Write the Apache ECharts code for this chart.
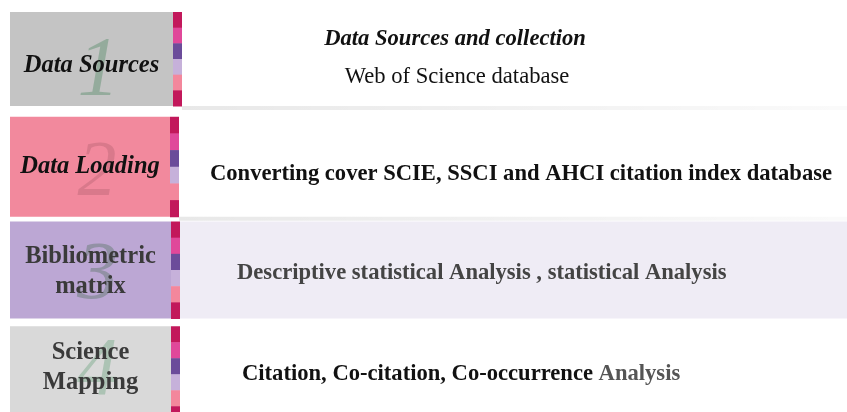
<!DOCTYPE html>
<html>
<head>
<meta charset="utf-8">
<script src="https://cdn.jsdelivr.net/npm/echarts@6/dist/echarts.min.js"></script>
<style>
  html, body { margin: 0; padding: 0; background: #fff; }
  #main { width: 847px; height: 412px; }
</style>
</head>
<body>
<div id="main"></div>
<script>
// workflow stages, top to bottom
var stageNumbers = ['1', '2', '3', '4'];
var stageLabels = ['Data Sources', 'Data Loading', 'Bibliometric\nmatrix', 'Science\nMapping'];
var descriptions = [
    'Data Sources and collection\nWeb of Science database',
    'Converting cover SCIE, SSCI and AHCI citation index database',
    'Descriptive statistical Analysis , statistical Analysis',
    'Citation, Co-citation, Co-occurrence Analysis'
];

(function () {
    var myChart = echarts.init(document.querySelector('#main'));
    var serif = '"Liberation Serif", "DejaVu Serif", serif';

    // styles per row
    var boxColors = ['#c4c4c4', '#f2899d', '#bca7d4', '#d9d9d9'];
    var numColors = ['#8fa898', '#d6788a', '#8d8fa0', '#a6c0af'];
    var rightColors = ['#ffffff', '#ffffff', '#efecf5', '#ffffff'];
    var stripColors = ['#c2185b', '#e0489a', '#6b4c9a', '#c6b1da', '#f3879c', '#c2185b'];
    var boxRight = [173, 170, 171, 171];
    var boxH = [94, 100, 97, 96];
    var labelDy = [54, 50, 50, 41];
    var numDy = [61, 57, 55, 46];
    var numSize = [84, 78, 82, 82];
    var descX = [455, 210, 237, 242];
    var descDy = [27, 57, 52, 48];

    function renderItem(params, api) {
        var i = api.value(0);
        var c = api.coord([0, i]);
        var band = api.size([0, 1])[1];
        var top = c[1] - band / 2;
        var h = boxH[i];
        var left = api.coord([10, i])[0];
        var right = boxRight[i];
        var segH = h / stripColors.length;
        var children = [];

        children.push({
            type: 'rect',
            shape: { x: right + 9, y: top, width: 847 - right - 9, height: h },
            style: { fill: rightColors[i] }
        });
        if (i < 2) {
            children.push({
                type: 'rect',
                shape: { x: right + 9, y: top + h, width: 847 - right - 9, height: 4 },
                style: {
                    fill: new echarts.graphic.LinearGradient(0, 0, 1, 0, [
                        { offset: 0, color: 'rgba(0,0,0,0.09)' },
                        { offset: 1, color: 'rgba(0,0,0,0.02)' }
                    ])
                }
            });
        }
        children.push({
            type: 'rect',
            shape: { x: left, y: top, width: right - left, height: h },
            style: { fill: boxColors[i] }
        });
        stripColors.forEach(function (col, k) {
            children.push({
                type: 'rect',
                shape: { x: right, y: top + k * segH, width: 9, height: segH + 0.5 },
                style: { fill: col }
            });
        });
        children.push({
            type: 'text',
            style: {
                x: (left + right) / 2 + 7,
                y: top + numDy[i],
                text: stageNumbers[i],
                font: 'italic ' + numSize[i] + 'px ' + serif,
                fill: numColors[i],
                opacity: 0.9,
                align: 'center',
                verticalAlign: 'middle'
            }
        });
        var italic = i < 2;
        children.push({
            type: 'text',
            style: {
                x: (left + right) / 2,
                y: top + labelDy[i],
                text: stageLabels[i],
                font: (italic ? 'italic ' : '') + 'bold 24.5px ' + serif,
                fill: italic ? '#111' : '#3a3a3a',
                lineHeight: 30,
                align: 'center',
                verticalAlign: 'middle'
            }
        });

        var desc = descriptions[i];
        var fs = 'bold 22.6px ' + serif;
        if (i === 0) {
            var lines = desc.split('\n');
            children.push({
                type: 'text',
                style: {
                    x: descX[i], y: top + descDy[i], text: lines[0],
                    font: 'italic ' + fs, fill: '#111',
                    align: 'center', verticalAlign: 'middle'
                }
            });
            children.push({
                type: 'text',
                style: {
                    x: descX[i] + 2, y: top + descDy[i] + 38, text: lines[1],
                    font: '22.6px ' + serif, fill: '#111',
                    align: 'center', verticalAlign: 'middle'
                }
            });
        } else if (i === 3) {
            var cut = desc.lastIndexOf(' ');
            children.push({
                type: 'text',
                style: {
                    x: descX[i], y: top + descDy[i],
                    text: '{a|' + desc.slice(0, cut + 1) + '}{b|' + desc.slice(cut + 1) + '}',
                    rich: {
                        a: { font: fs, fill: '#111' },
                        b: { font: fs, fill: '#555' }
                    },
                    align: 'left', verticalAlign: 'middle'
                }
            });
        } else {
            children.push({
                type: 'text',
                style: {
                    x: descX[i], y: top + descDy[i], text: desc,
                    font: fs,
                    fill: i === 2 ? '#444' : '#111',
                    align: 'left', verticalAlign: 'middle'
                }
            });
        }
        return { type: 'group', children: children };
    }

    myChart.setOption({
        animation: false,
        backgroundColor: '#fff',
        grid: { left: 0, top: 12, width: 847, height: 419, outerBoundsMode: 'none' },
        xAxis: { type: 'value', min: 0, max: 847, show: false },
        yAxis: {
            type: 'category', inverse: true, show: false,
            data: stageNumbers
        },
        series: [{
            type: 'custom',
            renderItem: renderItem,
            data: stageNumbers.map(function (n, i) { return [i]; }),
            encode: { y: 0 },
            clip: false
        }]
    });
})();
</script>
</body>
</html>
